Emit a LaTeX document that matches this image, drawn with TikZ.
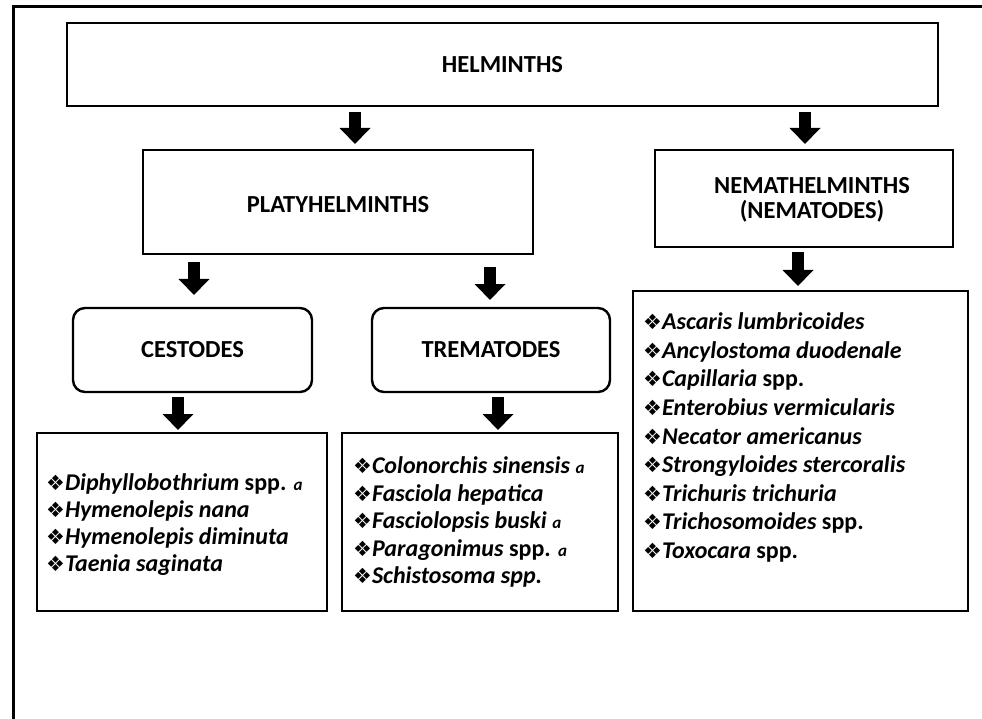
\documentclass[tikz,border=0pt]{standalone}
\usepackage{fontspec}
\setmainfont{Carlito}
\newfontfamily\symfont{DejaVu Sans}
\usetikzlibrary{arrows.meta}
\newcommand\bul{{\symfont\fontsize{21}{21}\selectfont ❖}}
\newcommand\sfa{{\fontsize{17}{17}\selectfont\textit{a}}}
\begin{document}
\begin{tikzpicture}[x=1pt,y=-1pt,
  box/.style={draw, line width=2.4pt, inner sep=0pt},
  rbox/.style={box, rounded corners=12pt},
  title/.style={font=\fontsize{24.5}{25}\selectfont\bfseries, align=center},
  lst/.style={align=left, anchor=west, inner sep=0pt},
  blk/.style={line width=12pt, -{Triangle[width=30pt,length=16pt]}}]
\useasboundingbox (0,0) rectangle (982,719);
% frame
\draw[line width=3pt] (13,719) -- (13,7) -- (982,7);
% boxes
\node[box, title, minimum width=871pt, minimum height=83pt] (helm) at (502.5,64.5) {HELMINTHS};
\node[box, minimum width=390pt, minimum height=104pt] (platy) at (338,202) {};
\node[title] (platyt) at (338,205) {PLATYHELMINTHS};
\node[box, minimum width=298pt, minimum height=97pt] (nema) at (804,198.5) {};
\node[title] (nemat) at (812,200) {NEMATHELMINTHS\\(NEMATODES)};
\node[rbox, title, minimum width=239pt, minimum height=84pt] (cest) at (192.5,350) {CESTODES};
\node[rbox, title, minimum width=238pt, minimum height=84pt] (trem) at (491,350) {TREMATODES};
\node[box, minimum width=290pt, minimum height=178pt] (cl) at (182,522) {};
\node[box, minimum width=276pt, minimum height=178pt] (tl) at (480,522) {};
\node[box, minimum width=335pt, minimum height=320pt] (nl) at (800.5,451) {};
% lists
\node[lst, font=\fontsize{24}{27}\selectfont\bfseries] (clt) at (46,524.5) {%
\bul\textit{Diphyllobothrium} spp. \sfa\\
\bul\textit{Hymenolepis nana}\\
\bul\textit{Hymenolepis diminuta}\\
\bul\textit{Taenia saginata}};
\node[lst, font=\fontsize{24}{27.5}\selectfont\bfseries] (tlt) at (353,522) {%
\bul\textit{Colonorchis sinensis} \sfa\\
\bul\textit{Fasciola hepatica}\\
\bul\textit{Fasciolopsis buski} \sfa\\
\bul\textit{Paragonimus} spp. \sfa\\
\bul\textit{Schistosoma spp.}};
\node[lst, font=\fontsize{24}{28.6}\selectfont\bfseries] (nlt) at (643,437.5) {%
\bul\textit{Ascaris lumbricoides}\\
\bul\textit{Ancylostoma duodenale}\\
\bul\textit{Capillaria} spp.\\
\bul\textit{Enterobius vermicularis}\\
\bul\textit{Necator americanus}\\
\bul\textit{Strongyloides stercoralis}\\
\bul\textit{Trichuris trichuria}\\
\bul\textit{Trichosomoides} spp.\\
\bul\textit{Toxocara} spp.};
% arrows
\coordinate (a1s) at (355,112); \coordinate (a1e) at (355,144);
\coordinate (a2s) at (805,112); \coordinate (a2e) at (805,144);
\coordinate (a3s) at (194,262); \coordinate (a3e) at (194,295);
\coordinate (a4s) at (490,267); \coordinate (a4e) at (490,300);
\coordinate (a5s) at (798,252); \coordinate (a5e) at (798,286);
\coordinate (a6s) at (178,397); \coordinate (a6e) at (178,430);
\coordinate (a7s) at (498,397); \coordinate (a7e) at (498,430);
\draw[blk] (a1s) -- (a1e);
\draw[blk] (a2s) -- (a2e);
\draw[blk] (a3s) -- (a3e);
\draw[blk] (a4s) -- (a4e);
\draw[blk] (a5s) -- (a5e);
\draw[blk] (a6s) -- (a6e);
\draw[blk] (a7s) -- (a7e);
\end{tikzpicture}
\end{document}
